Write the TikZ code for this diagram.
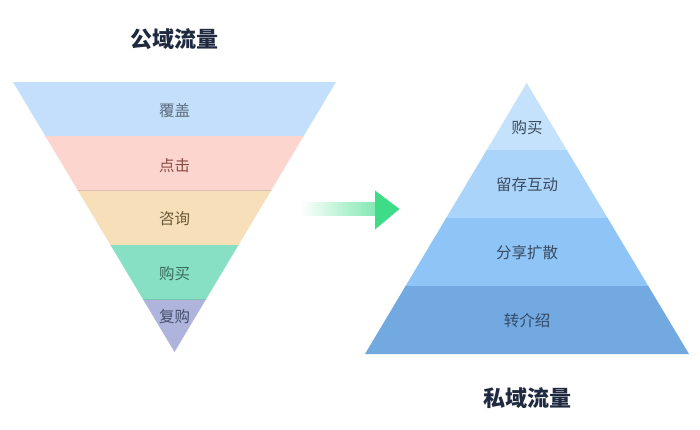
\documentclass[tikz,border=0pt]{standalone}
\usepackage{fontspec}
\setmainfont{Noto Sans CJK SC}
\usetikzlibrary{positioning}
\definecolor{titleC}{HTML}{1F2A40}
\definecolor{fA}{HTML}{C3DFFB}
\definecolor{fB}{HTML}{FDD5CF}
\definecolor{fC}{HTML}{F6DFB9}
\definecolor{fD}{HTML}{87E0C4}
\definecolor{fE}{HTML}{AFB4DD}
\definecolor{pA}{HTML}{C4E2FC}
\definecolor{pB}{HTML}{ABD4FA}
\definecolor{pC}{HTML}{8FC4F6}
\definecolor{pD}{HTML}{72A9E1}
\definecolor{arrowC}{HTML}{3EDC88}
\begin{document}
\begin{tikzpicture}[x=1pt, y=-1pt,
  lbl/.style={font=\fontsize{15.5}{18}\selectfont, inner sep=0pt},
  ttl/.style={font=\fontsize{22}{26}\selectfont\bfseries, text=titleC, inner sep=0pt}]
\useasboundingbox[fill=white] (0,0) rectangle (700,430);
% Public funnel (inverted triangle cut into bands)
\begin{scope}
\clip (13,82) -- (336,82) -- (174.5,352) -- cycle;
\foreach \top/\col in {82/fA, 136.5/fB, 191/fC, 245/fD, 299.5/fE}{
  \fill[\col] (0,\top) rectangle (350,\top+54.5);
  \draw[\col!80!black!60!\col, line width=1pt] (0,\top+54.5) -- (350,\top+54.5);
}
\end{scope}
\node[ttl] (pubtitle) at (174.5,39) {公域流量};
\node[lbl, text={rgb,255:red,91;green,107;blue,122}] (fcover) at (174.5,110.5) {覆盖};
\node[lbl, text={rgb,255:red,139;green,75;blue,66}] (fclick) at (174.5,165.5) {点击};
\node[lbl, text={rgb,255:red,106;green,90;blue,58}] (fask) at (174.5,219) {咨询};
\node[lbl, text={rgb,255:red,58;green,107;blue,90}] (fbuy) at (174.5,273.5) {购买};
\node[lbl, text={rgb,255:red,69;green,79;blue,107}] (frebuy) at (174.5,316.5) {复购};
% Transition arrow
\shade[left color=white, right color=arrowC!65!white] (300,203) rectangle (376,215);
\fill[arrowC] (375,190.5) -- (399.5,209) -- (375,229.5) -- cycle;
% Private pyramid
\begin{scope}
\clip (526.7,83) -- (689,354) -- (365,354) -- cycle;
\foreach \top/\bot/\col in {83/150/pA, 150/218/pB, 218/286/pC, 286/354/pD}{
  \fill[\col] (350,\top) rectangle (700,\bot);
  \draw[\col!85!black!50!\col, line width=0.8pt] (350,\bot) -- (700,\bot);
}
\end{scope}
\node[lbl, text={rgb,255:red,59;green,75;blue,96}] (pbuy) at (527,128) {购买};
\node[lbl, text={rgb,255:red,59;green,75;blue,96}] (pkeep) at (527,185) {留存互动};
\node[lbl, text={rgb,255:red,59;green,75;blue,96}] (pshare) at (527,252.5) {分享扩散};
\node[lbl, text={rgb,255:red,51;green,74;blue,102}] (prefer) at (527,320.5) {转介绍};
\node[ttl] (privtitle) at (527,398) {私域流量};
\end{tikzpicture}
\end{document}
